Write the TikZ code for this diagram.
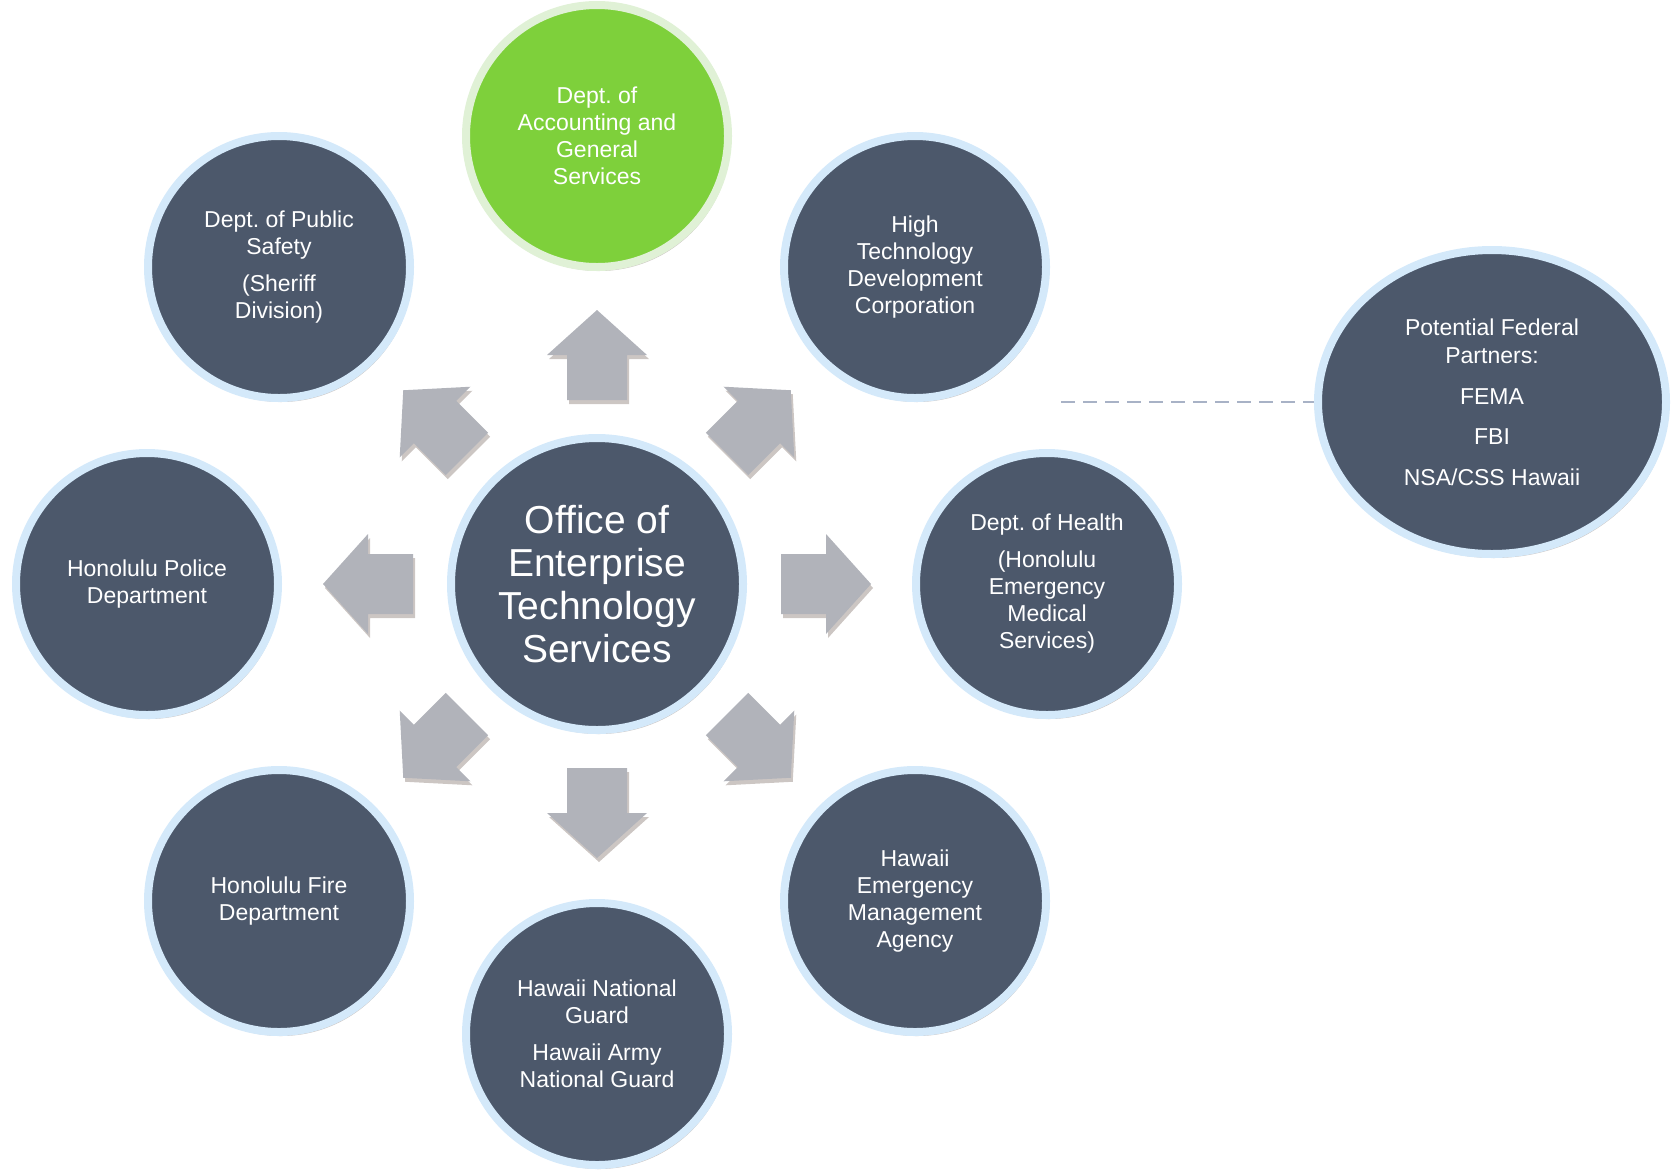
\documentclass[tikz,border=0pt]{standalone}
\usepackage{fontspec}
\setmainfont{Liberation Sans}
\usetikzlibrary{shapes.geometric,shadows}
\frenchspacing
\definecolor{slate}{RGB}{76,88,107}
\definecolor{ringblue}{RGB}{212,233,250}
\definecolor{leafgreen}{RGB}{126,208,59}
\definecolor{ringgreen}{RGB}{224,241,214}
\definecolor{arrowgray}{RGB}{177,179,186}
\definecolor{dashgray}{RGB}{168,178,198}
\definecolor{shadowbrown}{RGB}{110,92,84}
\tikzset{
	soft/.style={drop shadow={shadow xshift=2pt, shadow yshift=-4pt, opacity=0.35, fill=shadowbrown}},
	org/.style={circle, soft, fill=slate, draw=ringblue, line width=8pt, minimum size=262pt, inner sep=0pt, align=center, text=white, font=\fontsize{23}{27}\selectfont},
	lead/.style={fill=leafgreen, draw=ringgreen},
	hub/.style={org, minimum size=292pt, font=\fontsize{39}{43}\selectfont},
	fed/.style={org, ellipse, minimum width=348pt, minimum height=304pt, font=\fontsize{23}{28.5}\selectfont},
	dashline/.style={draw=dashgray, line width=2.5pt, dash pattern=on 14pt off 8pt}
}
\def\bigarrow(#1)[#2]{\fill[arrowgray, soft, shift={(#1)}, rotate=#2] (184,-30) -- (229,-30) -- (229,-50) -- (274,0) -- (229,50) -- (229,30) -- (184,30) -- cycle;}

\begin{document}
\begin{tikzpicture}[x=1pt,y=-1pt]
		%%%%% START %%%%%
		\useasboundingbox (0,0) rectangle (1672,1171);
		
		\node[hub] (oets) at (597,584) {Office of\\Enterprise\\Technology\\Services};
		
		\node[org, lead] (dags) at (597,136) {Dept. of\\Accounting and\\General\\Services};
		\node[org] (dps) at (279,267) {Dept. of Public\\Safety\\[10pt](Sheriff\\Division)};
		\node[org] (htdc) at (915,267) {High\\Technology\\Development\\Corporation};
		\node[org] (hpd) at (147,584) {Honolulu Police\\Department};
		\node[org] (doh) at (1047,584) {Dept. of Health\\[10pt](Honolulu\\Emergency\\Medical\\Services)};
		\node[org] (hfd) at (279,901) {Honolulu Fire\\Department};
		\node[org] (hema) at (915,901) {Hawaii\\Emergency\\Management\\Agency};
		\node[org] (hng) at (597,1034) {Hawaii National\\Guard\\[10pt]Hawaii Army\\National Guard};
		
		\foreach \a in {0,45,...,315} {\bigarrow(oets.center)[\a]}
		
		\node[fed] (feds) at (1492,402) {Potential Federal\\Partners:\\[12pt]FEMA\\[12pt]FBI\\[12pt]NSA/CSS Hawaii};
		\coordinate (dashend) at (1061,402);
		\draw[dashline] (dashend) -- (feds.west);
		%%%%% END %%%%%
	\end{tikzpicture}
\end{document}
